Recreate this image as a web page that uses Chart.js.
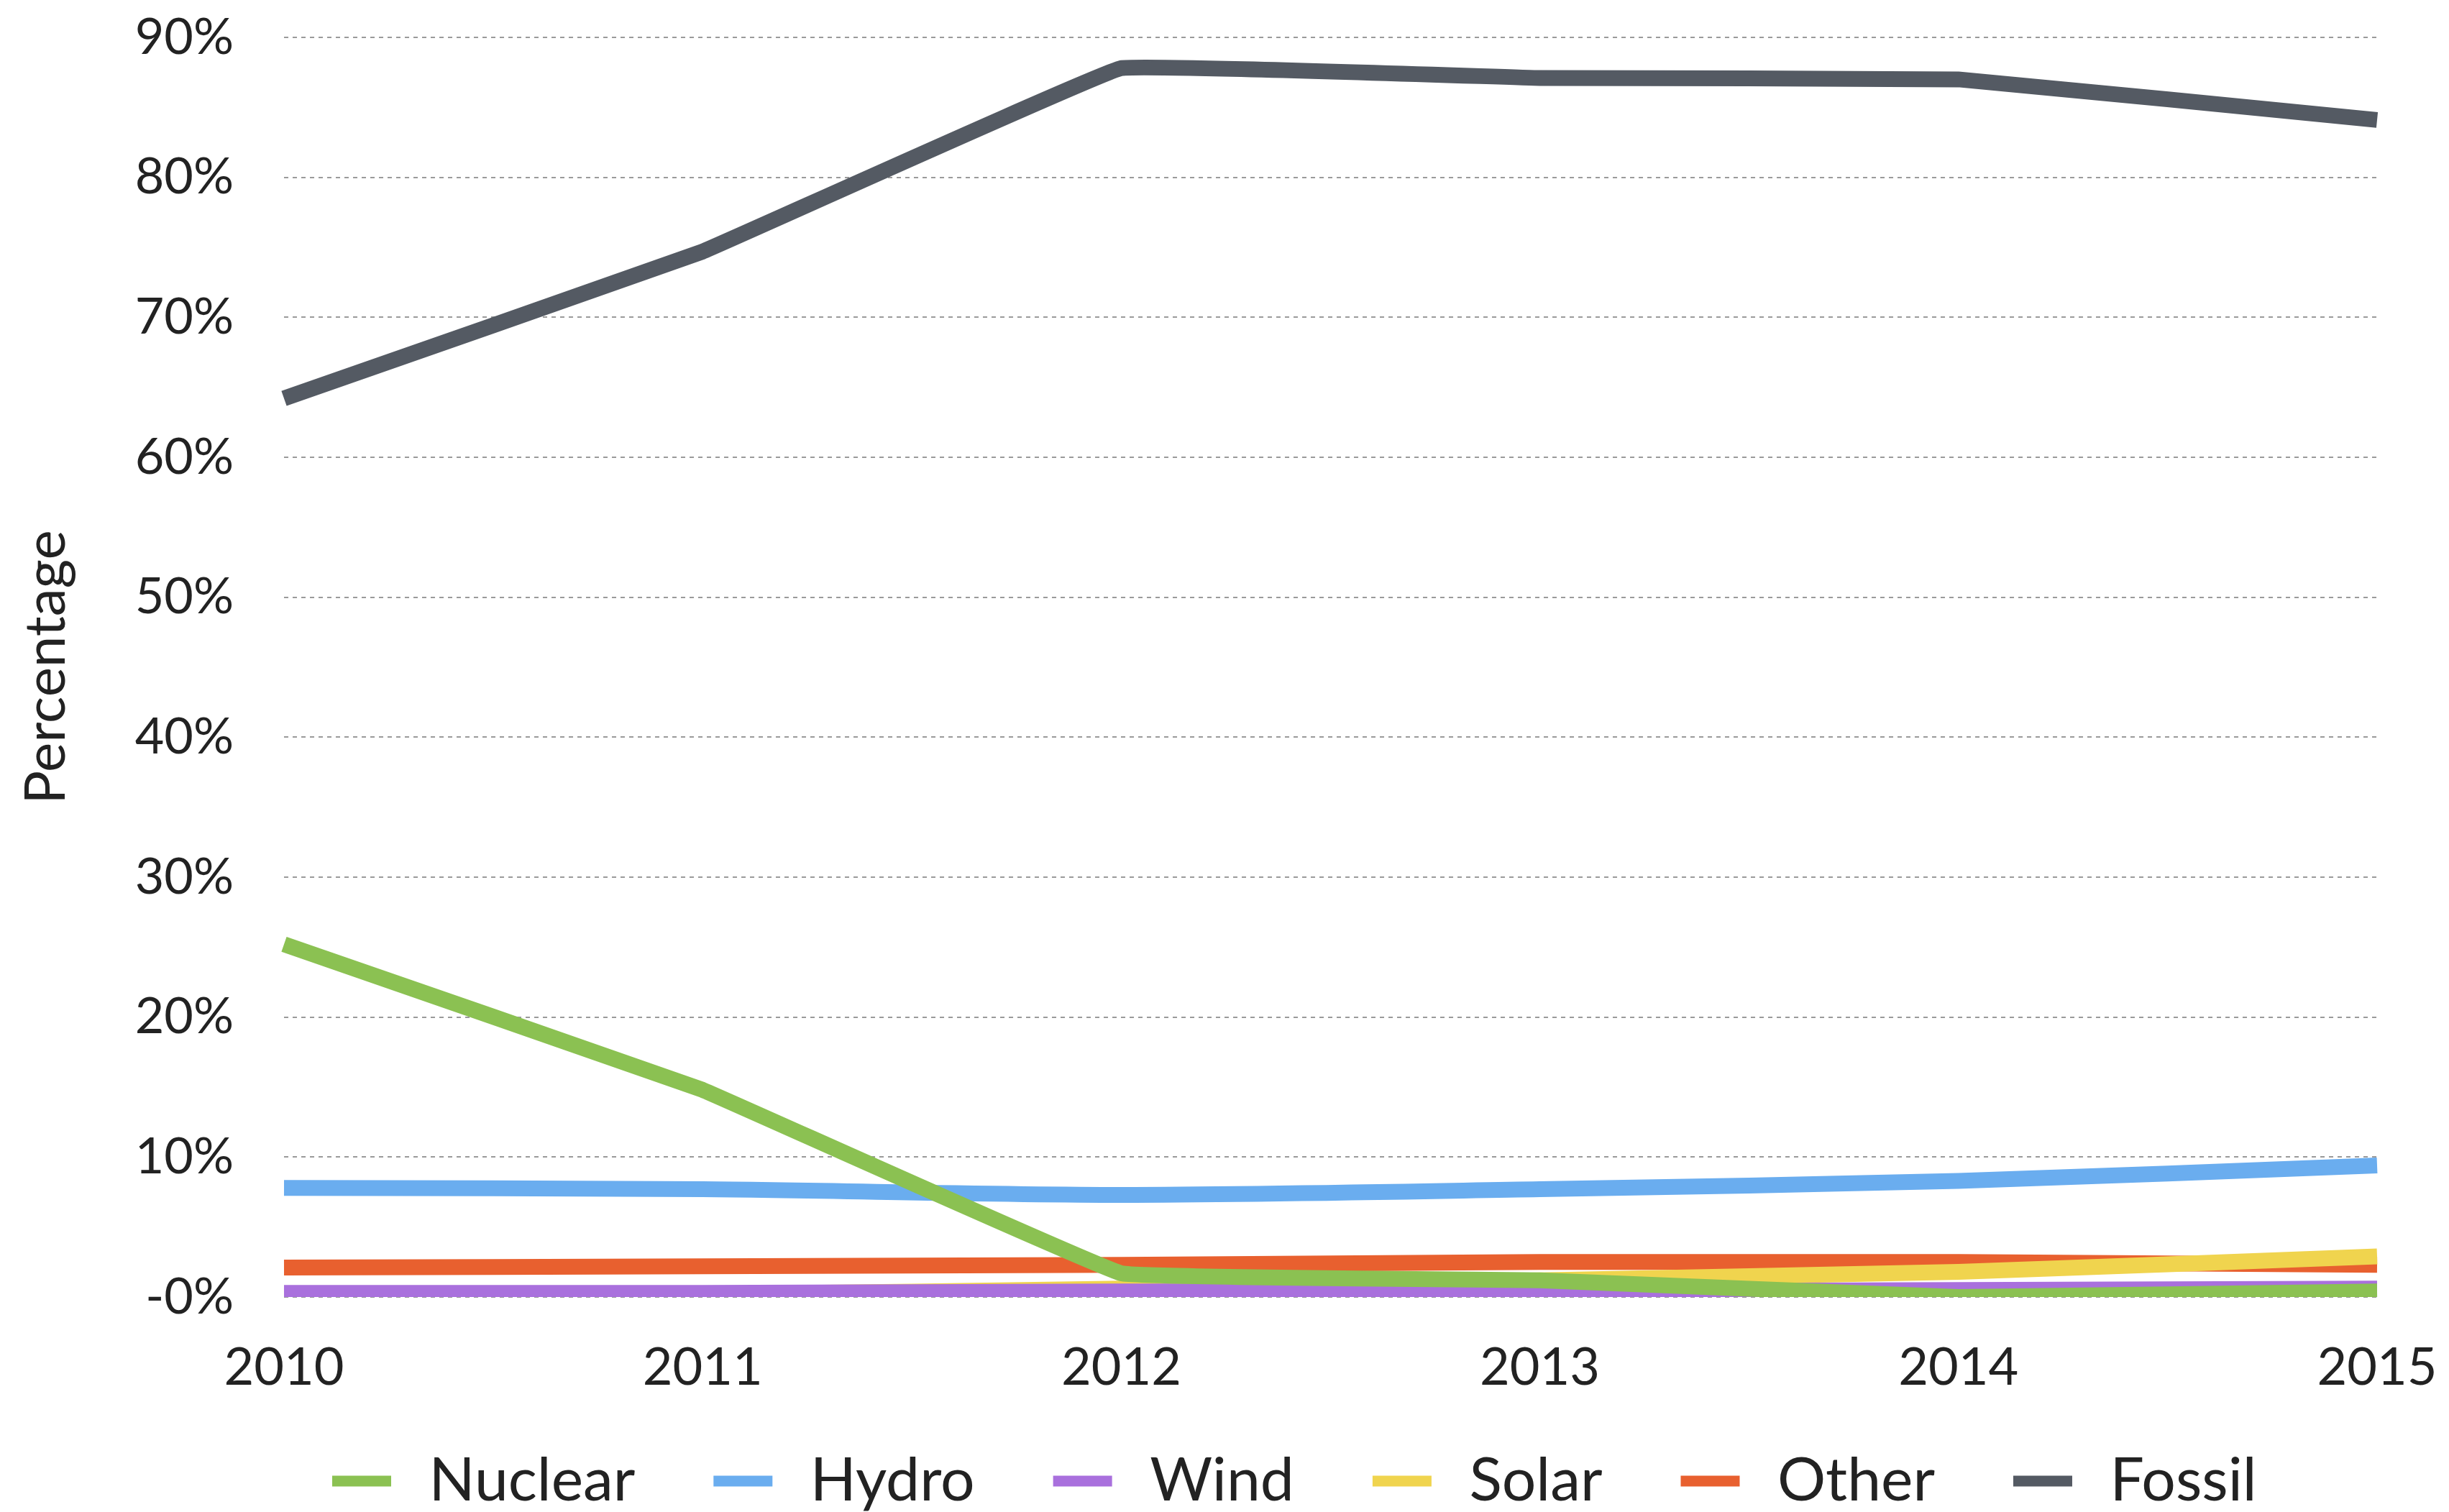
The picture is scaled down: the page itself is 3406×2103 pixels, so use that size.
<!DOCTYPE html>
<html>
<head>
<meta charset="utf-8">
<script src="https://cdn.jsdelivr.net/npm/chart.js@4"></script>
<style>
  body { margin: 0; background: #fff; }
  #wrap { width: 3406px; height: 2103px; }
</style>
</head>
<body>
<div id="wrap"><canvas id="chart"></canvas></div>
<script>
const years = ['2010', '2011', '2012', '2013', '2014', '2015'];

const nuclear = [25.2, 14.8, 1.7, 1.2, 0.0, 0.4];
const hydro   = [7.8, 7.7, 7.3, 7.7, 8.3, 9.4];
const wind    = [0.3, 0.3, 0.4, 0.4, 0.5, 0.6];
const solar   = [0.1, 0.2, 0.6, 1.2, 1.8, 2.9];
const other   = [2.1, 2.2, 2.3, 2.5, 2.5, 2.3];
const fossil  = [64.2, 74.7, 87.8, 87.1, 87.0, 84.1];

const yTickLabels = ['-0%', '10%', '20%', '30%', '40%', '50%', '60%', '70%', '80%', '90%'];

const fontFamily = 'Lato, "Open Sans", sans-serif';

function series(label, data, color, tension) {
    return {
        label: label,
        data: data,
        borderColor: color,
        backgroundColor: color,
        borderWidth: 22,
        pointRadius: 0,
        tension: tension,
        fill: false
    };
}

const ctx = document.getElementById('chart').getContext('2d');
new Chart(ctx, {
    type: 'line',
    data: {
        labels: years,
        datasets: [
            series('Nuclear', nuclear, '#8bc152', 0.05),
            series('Hydro', hydro, '#6aadef', 0.3),
            series('Wind', wind, '#a970dd', 0.1),
            series('Solar', solar, '#f0d44e', 0.1),
            series('Other', other, '#e8602f', 0.1),
            series('Fossil', fossil, '#545a63', 0.05)
        ]
    },
    options: {
        responsive: true,
        maintainAspectRatio: false,
        animation: false,
        layout: {
            padding: { top: 0, right: 0, left: 0, bottom: -9 }
        },
        plugins: {
            legend: {
                position: 'bottom',
                fullSize: false,
                align: 'start',
                labels: {
                    boxWidth: 82,
                    boxHeight: 15,
                    padding: 67,
                    color: '#222',
                    font: { family: fontFamily, size: 84 },
                    generateLabels: chart => {
                        const items = Chart.defaults.plugins.legend.labels.generateLabels(chart);
                        items.forEach((item, i) => {
                            item.lineWidth = 0;
                            item.text = '\u2009' + item.text + (i < items.length - 1 ? '\u2002' : '');
                        });
                        return items;
                    }
                }
            },
            tooltip: { enabled: false }
        },
        scales: {
            x: {
                offset: false,
                afterFit: scale => {
                    scale.height = 147;
                    scale.paddingRight = 100;
                    scale.paddingLeft = 0;
                },
                grid: { display: false, drawTicks: false },
                border: { display: false },
                ticks: {
                    padding: 56,
                    color: '#222',
                    maxRotation: 0,
                    font: { family: fontFamily, size: 72 }
                }
            },
            y: {
                min: 0,
                max: 90,
                afterFit: scale => {
                    scale.width = 395;
                    scale.paddingTop = 52;
                    scale.paddingBottom = 0;
                },
                grid: {
                    drawTicks: false,
                    color: '#9a9a9a',
                    lineWidth: 2
                },
                border: { display: false, dash: [6, 6] },
                ticks: {
                    stepSize: 10,
                    padding: 70,
                    color: '#222',
                    font: { family: fontFamily, size: 70 },
                    callback: (value, index) => yTickLabels[index]
                },
                title: {
                    display: true,
                    text: 'Percentage',
                    color: '#222',
                    padding: { top: 18, bottom: 0 },
                    font: { family: fontFamily, size: 78 }
                }
            }
        }
    }
});
</script>
</body>
</html>
